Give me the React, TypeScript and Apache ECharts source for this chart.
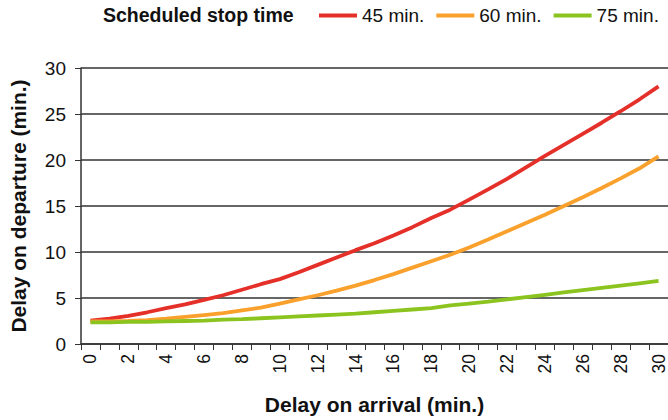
import React, { useEffect, useRef } from "react";
import * as echarts from "echarts";

const categories = ["0","1","2","3","4","5","6","7","8","9","10","11","12","13","14","15","16","17","18","19","20","21","22","23","24","25","26","27","28","29","30"];
const seriesNames = ["45 min.", "60 min.", "75 min."];
const red45 = [2.55, 2.75, 3.05, 3.45, 3.9, 4.3, 4.8, 5.3, 5.9, 6.5, 7.05, 7.8, 8.6, 9.4, 10.2, 10.95, 11.8, 12.7, 13.7, 14.6, 15.7, 16.8, 17.95, 19.2, 20.45, 21.65, 22.85, 24.05, 25.3, 26.6, 28.0];
const orange60 = [2.45, 2.45, 2.5, 2.6, 2.75, 2.95, 3.15, 3.35, 3.65, 3.95, 4.4, 4.85, 5.3, 5.8, 6.35, 6.95, 7.6, 8.3, 9.0, 9.7, 10.5, 11.35, 12.25, 13.15, 14.05, 15.0, 15.95, 16.95, 18.0, 19.1, 20.4];
const green75 = [2.35, 2.35, 2.4, 2.4, 2.45, 2.5, 2.55, 2.65, 2.7, 2.8, 2.9, 3.0, 3.1, 3.2, 3.3, 3.45, 3.6, 3.75, 3.9, 4.2, 4.4, 4.6, 4.85, 5.1, 5.35, 5.6, 5.85, 6.1, 6.35, 6.6, 6.85];
const colors = ["#e5302a", "#f9a12c", "#8cc41f"];
const yTicks = { min: 0, max: 30, interval: 5 };
const legendTitle = "Scheduled stop time";
const xTitle = "Delay on arrival (min.)";
const yTitle = "Delay on departure (min.)";

const FONT = "'Liberation Sans', Arial, Helvetica, sans-serif";

export default function App() {
  const ref = useRef<HTMLDivElement>(null);
  useEffect(() => {
    if (!ref.current) return;
    const chart = echarts.init(ref.current, undefined, { renderer: "svg" });
    const data = [red45, orange60, green75];
    chart.setOption({
      animation: false,
      backgroundColor: "#ffffff",
      textStyle: { fontFamily: FONT },
      title: {
        text: legendTitle,
        left: 103,
        top: 5,
        padding: 0,
        textStyle: { fontFamily: FONT, fontSize: 19.5, fontWeight: "bold", color: "#111" },
      },
      legend: {
        left: 319,
        top: 6,
        width: 349,
        padding: 0,
        itemWidth: 38,
        itemHeight: 4,
        itemGap: 12,
        icon: "rect",
        data: seriesNames,
        textStyle: { fontFamily: FONT, fontSize: 19, color: "#111" },
      },
      grid: { left: 76, right: -3, top: 68, bottom: 74, containLabel: false },
      xAxis: {
        type: "category",
        data: categories,
        boundaryGap: true,
        name: xTitle,
        nameLocation: "middle",
        nameGap: 50,
        nameTextStyle: { fontFamily: FONT, fontSize: 21, fontWeight: "bold", color: "#111" },
        axisLine: { show: true, lineStyle: { color: "#333", width: 1.5 } },
        axisTick: { show: true, interval: 0, length: 6, lineStyle: { color: "#333" } },
        axisLabel: { interval: 1, rotate: 90, margin: 10, fontSize: 17.5, color: "#111", fontFamily: FONT },
        splitLine: { show: false },
      },
      yAxis: {
        type: "value",
        min: yTicks.min,
        max: yTicks.max,
        interval: yTicks.interval,
        name: yTitle,
        nameLocation: "middle",
        nameGap: 52,
        nameTextStyle: { fontFamily: FONT, fontSize: 21, fontWeight: "bold", color: "#111" },
        axisLine: { show: true, lineStyle: { color: "#333", width: 1.5 } },
        axisTick: { show: true, length: 6, lineStyle: { color: "#333" } },
        axisLabel: { margin: 15, fontSize: 19, color: "#111", fontFamily: FONT },
        splitLine: { show: true, lineStyle: { color: "#333333", width: 1.6 } },
      },
      series: seriesNames.map((name, i) => ({
        name,
        type: "line",
        data: data[i],
        showSymbol: false,
        symbol: "none",
        smooth: false,
        color: colors[i],
        lineStyle: { color: colors[i], width: 3.8 },
      })),
    });
    return () => chart.dispose();
  }, []);
  return (
    <div
      ref={ref}
      style={{ position: "fixed", left: 0, top: 0, width: 668, height: 420, background: "#fff" }}
    />
  );
}
